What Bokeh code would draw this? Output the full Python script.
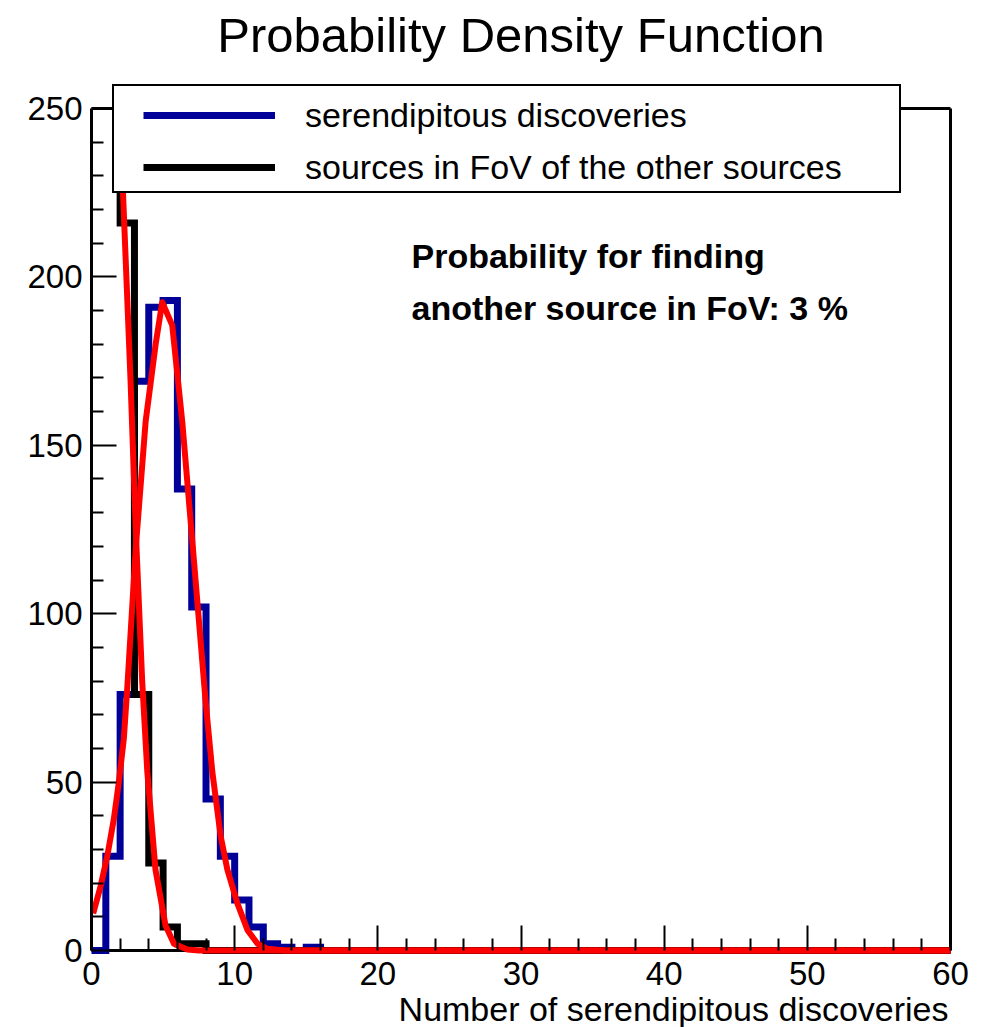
import numpy as np
from bokeh.plotting import figure
from bokeh.models import Range1d, FixedTicker, Legend, LegendItem, Label
from bokeh.embed import file_html
from bokeh.resources import INLINE

# ---------------- data ----------------
title_text = "Probability Density Function"
x_axis_label = "Number of serendipitous discoveries"
legend_labels = ["serendipitous discoveries", "sources in FoV of the other sources"]
note_lines = ["Probability for finding", "another source in FoV: 3 %"]

x_ticks = [0, 10, 20, 30, 40, 50, 60]
y_ticks = [0, 50, 100, 150, 200, 250]
x_tick_labels = ["0", "10", "20", "30", "40", "50", "60"]
y_tick_labels = ["0", "50", "100", "150", "200", "250"]

bin_start = 0
bin_width = 1

# histogram counts per unit bin, [0,1), [1,2), ... [59,60)
serendipitous_counts = [0, 28, 76, 169, 191, 193, 137, 102, 45, 28,
                        15, 7, 2, 1, 0, 1, 0, 0, 0, 0,
                        0, 0, 0, 0, 0, 0, 0, 0, 0, 0,
                        0, 0, 0, 0, 0, 0, 0, 0, 0, 0,
                        0, 0, 0, 0, 0, 0, 0, 0, 0, 0,
                        0, 0, 0, 0, 0, 0, 0, 0, 0, 0]
# the first two bins run off the top of the axis (> 250) in the original
fov_counts = [270, 280, 216, 76, 26, 7, 2, 2, 0, 0,
              0, 0, 0, 0, 0, 0, 0, 0, 0, 0,
              0, 0, 0, 0, 0, 0, 0, 0, 0, 0,
              0, 0, 0, 0, 0, 0, 0, 0, 0, 0,
              0, 0, 0, 0, 0, 0, 0, 0, 0, 0,
              0, 0, 0, 0, 0, 0, 0, 0, 0, 0]

# fitted curves (red)
serendipitous_fit_x = [0.12, 0.63, 1.1, 1.56, 1.91, 2.26, 2.5, 3.1, 3.78, 4.48, 4.94,
                       5.64, 6.34, 7.15, 7.97, 8.44, 9.02, 9.49, 10.19, 10.9, 11.6,
                       12.3, 13.5, 60]
serendipitous_fit_y = [11, 19, 28, 39, 50, 63, 78, 120, 157, 180, 192.5,
                       185.6, 157, 116, 74, 53, 34, 24, 14, 6, 2,
                       0.5, 0, 0]
fov_fit_x = [1.8, 2.2, 2.73, 3.1, 3.54, 3.9, 4.47, 5.17, 5.76, 6.7, 7.5, 60]
fov_fit_y = [275, 225, 169, 124, 80, 53, 24, 7.4, 2, 0.3, 0, 0]

# ---------------- layout / styling ----------------
FONT = "Liberation Sans"
BLUE = "#000099"
RED = "#ff0000"
W, H = 983, 1027
FRAME_L, FRAME_R, FRAME_T, FRAME_B = 91, 950, 108, 950   # pixel box of the data area
X0, X1, Y0, Y1 = 0, 60, 0, 250

sx = (FRAME_R - FRAME_L) / (X1 - X0)
sy = (FRAME_B - FRAME_T) / (Y1 - Y0)


def px_to_x(px):
    return X0 + (px - FRAME_L) / sx


def px_to_y(py):
    return Y0 + (FRAME_B - py) / sy


def step_path(counts):
    # outline of a histogram drawn bin top by bin top (no drop at the ends)
    c = np.asarray(counts, dtype=float)
    edges = bin_start + bin_width * np.arange(len(c) + 1)
    xs = np.repeat(edges, 2)[1:-1]
    ys = np.repeat(c, 2)
    return xs, ys


def minor_between(ticks, n):
    out = []
    for a, b in zip(ticks[:-1], ticks[1:]):
        for k in range(1, n):
            out.append(a + (b - a) * k / n)
    return out


p = figure(width=W, height=H, title=None,
           x_range=Range1d(px_to_x(0), px_to_x(W)),
           y_range=Range1d(px_to_y(H), px_to_y(0)),
           output_backend="svg", toolbar_location=None,
           min_border_left=0, min_border_right=0,
           min_border_top=0, min_border_bottom=0)
p.background_fill_color = "white"
p.border_fill_color = "white"
p.xgrid.visible = False
p.ygrid.visible = False
p.outline_line_alpha = 0

for ax, ticks, labels, standoff, bounds in ((p.xaxis[0], x_ticks, x_tick_labels, 11, (X0, X1)),
                                            (p.yaxis[0], y_ticks, y_tick_labels, 9, (Y0, Y1))):
    ax.fixed_location = 0
    ax.bounds = bounds
    ax.ticker = FixedTicker(ticks=ticks, minor_ticks=minor_between(ticks, 5))
    ax.major_label_overrides = {t: l for t, l in zip(ticks, labels)}
    ax.axis_line_width = 3
    ax.axis_line_color = "black"
    ax.major_tick_in = 25
    ax.major_tick_out = 0
    ax.minor_tick_in = 12
    ax.minor_tick_out = 0
    ax.major_tick_line_width = 2
    ax.minor_tick_line_width = 2
    ax.major_tick_line_color = "black"
    ax.minor_tick_line_color = "black"
    ax.major_label_text_font = FONT
    ax.major_label_text_font_size = "33px"
    ax.major_label_text_color = "black"
    ax.major_label_standoff = standoff
# bottom edge is drawn as part of the frame below, under the red curves
p.xaxis[0].axis_line_alpha = 0

# frame: bottom, top and right edges (left edge = y axis line)
p.segment(x0=[X0, X0, X1], y0=[Y0, Y1, Y0], x1=[X1, X1, X1], y1=[Y0, Y1, Y1],
          line_color="black", line_width=3)

bx, by = step_path(serendipitous_counts)
kx, ky = step_path(fov_counts)
r_blue = p.line(bx, by, line_color=BLUE, line_width=7, line_join="miter")
r_black = p.line(kx, ky, line_color="black", line_width=7, line_join="miter")
p.line(serendipitous_fit_x, serendipitous_fit_y, line_color=RED, line_width=6, line_join="round")
p.line(fov_fit_x, fov_fit_y, line_color=RED, line_width=6, line_join="round")

# white mask: anything above the axis maximum is not shown (like the original's clipping)
p.quad(left=[px_to_x(84)], right=[px_to_x(960)],
       bottom=[px_to_y(106)], top=[px_to_y(-20)],
       fill_color="white", fill_alpha=1, line_alpha=0)

# legend box (white, framed) and legend entries
dummy = p.line(x=[], y=[], line_alpha=0)
box = Legend(items=[LegendItem(label=" ", renderers=[dummy])],
             location=(112, H - 193), padding=0, margin=0, spacing=0,
             glyph_width=0, glyph_height=105, label_width=785, label_height=105,
             label_standoff=0, label_text_font_size="10px",
             border_line_color="black", border_line_width=2, border_line_alpha=1,
             background_fill_color="white", background_fill_alpha=1)
entries = Legend(items=[LegendItem(label=legend_labels[0], renderers=[r_blue]),
                        LegendItem(label=legend_labels[1], renderers=[r_black])],
                 location=(143, H - 187), padding=0, margin=0, spacing=12,
                 glyph_width=132, glyph_height=40, label_height=40,
                 label_standoff=30,
                 label_text_font=FONT, label_text_font_size="34px",
                 label_text_color="black",
                 border_line_alpha=0, background_fill_alpha=0)
p.add_layout(box)
p.add_layout(entries)

# texts
p.add_layout(Label(x=(X0 + X1) / 2, y=px_to_y(34), text=title_text, text_font=FONT,
                   text_font_size="49px", text_align="center",
                   text_baseline="middle", text_color="black"))
p.add_layout(Label(x=px_to_x(948), y=px_to_y(1008), text=x_axis_label, text_font=FONT,
                   text_font_size="34px", text_align="right",
                   text_baseline="middle", text_color="black"))
for txt, py in zip(note_lines, [255, 307]):
    p.add_layout(Label(x=px_to_x(411), y=px_to_y(py), text=txt, text_font=FONT,
                       text_font_size="34px", text_font_style="bold",
                       text_align="left", text_baseline="middle",
                       text_color="black"))

open("out.html", "w").write(file_html(p, INLINE))
